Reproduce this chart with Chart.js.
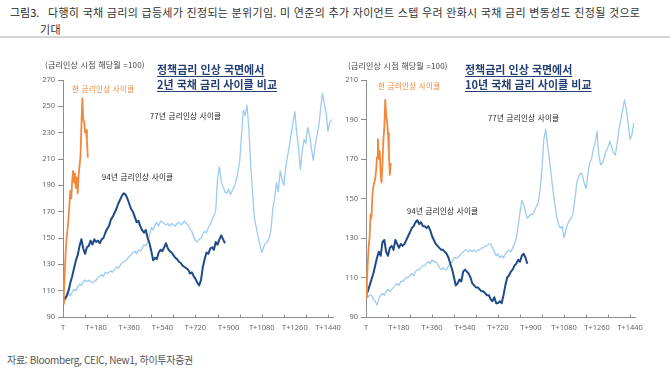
<!DOCTYPE html>
<html lang="ko">
<head>
<meta charset="utf-8">
<script src="https://cdn.jsdelivr.net/npm/chart.js@4.4.0/dist/chart.umd.min.js"></script>
<style>
body { margin: 0; width: 670px; height: 387px; background: #fff; position: relative; overflow: hidden;
	font-family: "Noto Sans CJK KR", "Noto Sans", sans-serif; }
.t { position: absolute; white-space: nowrap; line-height: 1; }
.box { position: absolute; }
.head { font-size: 11px; color: #333; letter-spacing: 0.3px; }
.ttl { font-size: 11px; font-weight: bold; color: #253f72; text-decoration: underline; text-underline-offset: 2px; }
.lab { font-size: 7.5px; color: #222; letter-spacing: 0.3px; }
.unit { font-size: 8px; color: #444; letter-spacing: 0.2px; }
.cur { color: #f4883a; }
#rule { position: absolute; left: 0; top: 36px; width: 670px; height: 2px; background: #d4d4d4; }
</style>
</head>
<body>
<div class="t head" style="left:10px;top:7px;color:#222;letter-spacing:0">그림3.</div>
<div class="t head" style="left:48px;top:7px">다행히 국채 금리의 급등세가 진정되는 분위기임. 미 연준의 추가 자이언트 스텝 우려 완화시 국채 금리 변동성도 진정될 것으로</div>
<div class="t head" style="left:40px;top:24px">기대</div>
<div id="rule"></div>

<div class="box" style="left:0;top:60px"><canvas id="c2y" width="345" height="285"></canvas></div>
<div class="box" style="left:335px;top:60px"><canvas id="c10y" width="315" height="285"></canvas></div>

<div class="t unit" style="left:45px;top:61px">(금리인상 시점 해당월 =100)</div>
<div class="t ttl" style="left:157px;top:64px">정책금리 인상 국면에서</div>
<div class="t ttl" style="left:157px;top:79px">2년 국채 금리 사이클 비교</div>
<div class="t lab cur" style="left:72px;top:85px">현 금리인상 사이클</div>
<div class="t lab" style="left:150px;top:112px">77년 금리인상 사이클</div>
<div class="t lab" style="left:102px;top:173px">94년 금리인상 사이클</div>

<div class="t unit" style="left:348px;top:62px">(금리인상 시점 해당월 =100)</div>
<div class="t ttl" style="left:465px;top:64px">정책금리 인상 국면에서</div>
<div class="t ttl" style="left:465px;top:79px">10년 국채 금리 사이클 비교</div>
<div class="t lab cur" style="left:378px;top:82px">현 금리인상 사이클</div>
<div class="t lab" style="left:488px;top:114px">77년 금리인상 사이클</div>
<div class="t lab" style="left:407px;top:207px">94년 금리인상 사이클</div>

<div class="t" style="left:7px;top:355px;font-size:10px;color:#555;letter-spacing:-0.3px">자료: Bloomberg, CEIC, New1, 하이투자증권</div>

<script>
// one value every 5 days for the current cycle, every 10 days for 77/94
var STEP_CUR = 5,
	STEP_OLD = 10;

var xTickLabels = [0, 180, 360, 540, 720, 900, 1080, 1260, 1440];

// 2y treasury, rate-hike month = 100
var cur2y = [100, 110, 126, 140, 150, 157, 165, 176, 186, 180, 194, 201, 192, 199,
	188, 196, 184, 198, 205, 212, 235, 256, 240, 238, 230, 232, 224, 211];

var c94_2y = [103, 104, 106, 110, 116, 121, 127, 133, 137, 144, 149, 142, 138, 143, 144,
	148, 145, 149, 147, 148, 146, 149, 150, 154, 157, 159, 164, 166, 169, 172, 176, 179,
	182, 184, 183, 180, 176, 172, 170, 166, 162, 163, 159, 156, 154, 156, 150, 146, 140,
	133, 135, 134, 139, 141, 140, 143, 146, 142, 140, 139, 137, 135, 134, 132, 131, 129,
	128, 127, 126, 123, 124, 121, 119, 116, 114, 118, 128, 134, 139, 138, 142, 143, 141,
	147, 145, 149, 152, 149, 146];

var c77_2y = [100, 102, 105, 108, 106, 109, 111, 110, 113, 115, 114, 117, 118, 117, 118,
	117, 116, 117, 118, 120, 121, 122, 121, 124, 123, 124, 125, 124, 126, 128, 127, 129,
	131, 132, 133, 134, 136, 137, 139, 140, 138, 141, 140, 142, 145, 144, 147, 152, 158,
	156, 160, 162, 159, 163, 162, 161, 160, 161, 159, 161, 160, 159, 161, 162, 160, 161,
	163, 161, 160, 157, 155, 151, 148, 147, 149, 150, 153, 155, 154, 158, 160, 164, 167,
	171, 195, 204, 193, 189, 185, 184, 187, 183, 186, 189, 193, 200, 208, 228, 247, 243,
	251, 233, 205, 185, 165, 158, 151, 145, 139, 143, 146, 147, 150, 156, 172, 180, 192,
	185, 201, 195, 190, 203, 212, 220, 229, 238, 246, 230, 219, 202, 216, 225, 222, 234,
	228, 218, 209, 220, 228, 235, 248, 260, 252, 245, 231, 238, 240];

// 10y treasury, rate-hike month = 100
var cur10y = [100, 108, 118, 126, 131, 142, 140, 152, 156, 158, 160, 164, 171, 180,
	170, 174, 162, 158, 168, 180, 186, 200, 192, 189, 183, 172, 162, 168];

var c94_10y = [101, 103, 106, 109, 112, 116, 120, 123, 121, 128, 129, 123, 121, 125, 126,
	124, 129, 127, 125, 127, 126, 127, 129, 131, 133, 135, 136, 138, 139, 137, 138, 136,
	136, 135, 136, 134, 131, 129, 127, 126, 125, 124, 124, 123, 122, 120, 117, 114, 110,
	106, 107, 109, 108, 113, 114, 113, 112, 110, 107, 106, 105, 105, 104, 103, 103, 102,
	101, 101, 99, 98, 100, 97, 97, 98, 97, 101, 106, 110, 111, 113, 114, 116, 117, 119,
	118, 121, 122, 120, 117];

var c77_10y = [100, 100, 101, 101, 99, 98, 96, 99, 101, 102, 101, 103, 104, 103, 104,
	105, 106, 107, 106, 108, 108, 109, 110, 110, 111, 112, 111, 113, 114, 114, 115, 116,
	116, 117, 118, 117, 119, 118, 118, 117, 115, 114, 115, 114, 114, 116, 117, 118, 120,
	120, 120, 121, 122, 123, 124, 124, 123, 124, 123, 124, 123, 124, 124, 125, 125, 126,
	126, 127, 127, 125, 123, 121, 122, 120, 121, 120, 122, 123, 124, 123, 125, 127, 130,
	136, 143, 149, 147, 143, 140, 141, 142, 142, 144, 146, 148, 155, 165, 180, 185, 177,
	170, 162, 154, 147, 141, 137, 135, 136, 130, 134, 137, 139, 140, 143, 150, 158, 161,
	163, 162, 158, 155, 162, 168, 170, 175, 178, 184, 172, 167, 168, 171, 174, 176, 179,
	176, 173, 172, 178, 185, 190, 195, 200, 195, 188, 180, 182, 188];

var AXIS = '#8c8c8c',
	TICK_TEXT = '#666',
	ORANGE = '#f4883a',
	NAVY = '#1f4a86',
	SKY = '#9ccbf2';

function toPoints(values, step) {
	return values.map(function (v, i) {
		return { x: i * step, y: v };
	});
}

// x tick marks every 120 days, drawn upward from the axis line
var innerTicks = {
	id: 'innerTicks',
	afterDraw: function (chart) {
		var xs = chart.scales.x,
			ctx = chart.ctx,
			y0 = Math.round(xs.top) + 0.5;
		ctx.save();
		ctx.strokeStyle = AXIS;
		ctx.lineWidth = 1;
		ctx.beginPath();
		for (var d = 0; d <= 1440; d += 120) {
			var px = Math.round(xs.getPixelForValue(d)) + 0.5;
			ctx.moveTo(px, y0);
			ctx.lineTo(px, y0 - 3);
		}
		ctx.stroke();
		ctx.restore();
	}
};

function makeChart(id, cur, c94, c77, yMin, yMax, yAxisWidth, rightPad) {
	var yTicks = [];
	for (var v = yMin; v <= yMax; v += 20) {
		yTicks.push(v);
	}
	return new Chart(document.getElementById(id), {
		type: 'line',
		data: {
			datasets: [
				{ data: toPoints(cur, STEP_CUR), borderColor: ORANGE, borderWidth: 1.8 },
				{ data: toPoints(c94, STEP_OLD), borderColor: NAVY, borderWidth: 2 },
				{ data: toPoints(c77, STEP_OLD), borderColor: SKY, borderWidth: 1.3 }
			]
		},
		options: {
			responsive: false,
			animation: false,
			events: [],
			layout: { padding: { top: 20, right: rightPad, left: 0, bottom: 0 } },
			elements: {
				point: { radius: 0 },
				line: { tension: 0, borderJoinStyle: 'round' }
			},
			plugins: { legend: { display: false }, tooltip: { enabled: false } },
			scales: {
				x: {
					type: 'linear',
					min: 0,
					max: 1470,
					grid: { drawOnChartArea: false, drawTicks: false, color: AXIS },
					border: { color: AXIS },
					ticks: {
						padding: 6,
						autoSkip: false,
						maxRotation: 0,
						color: TICK_TEXT,
						font: { family: 'Noto Sans', size: 7.5 },
						callback: function (val) {
							return val === 0 ? 'T' : 'T+' + val;
						}
					},
					afterBuildTicks: function (axis) {
						axis.ticks = xTickLabels.map(function (d) {
							return { value: d };
						});
					},
					afterFit: function (axis) {
						axis.height = 28;
						axis.paddingLeft = 0;
						axis.paddingRight = 0;
					}
				},
				y: {
					min: yMin,
					max: yMax,
					grid: { drawOnChartArea: false, tickLength: 5, color: AXIS },
					border: { color: AXIS },
					ticks: {
						padding: 3,
						color: TICK_TEXT,
						font: { family: 'Noto Sans', size: 7.5 }
					},
					afterBuildTicks: function (axis) {
						axis.ticks = yTicks.map(function (t) {
							return { value: t };
						});
					},
					afterFit: function (axis) {
						axis.width = yAxisWidth;
						axis.paddingTop = 0;
						axis.paddingBottom = 0;
					}
				}
			}
		},
		plugins: [innerTicks]
	});
}

makeChart('c2y', cur2y, c94_2y, c77_2y, 90, 270, 63, 11.5);
makeChart('c10y', cur10y, c94_10y, c77_10y, 90, 210, 31, 14.5);
</script>
</body>
</html>
